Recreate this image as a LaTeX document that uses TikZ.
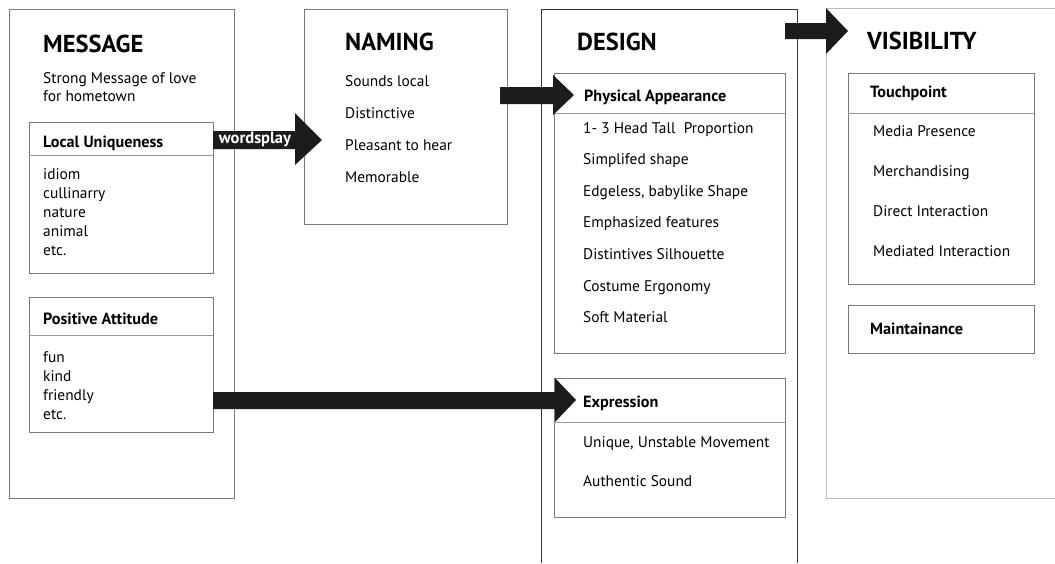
\documentclass[tikz,border=0pt]{standalone}
\usepackage{fontspec}
\setmainfont{PT Sans}
\definecolor{boxgray}{HTML}{7A7A7A}
\definecolor{darkline}{HTML}{333333}
\definecolor{lightline}{HTML}{BBBBBB}
\definecolor{sepgray}{HTML}{999999}
\definecolor{arrowfill}{HTML}{1C1C1C}
\tikzset{
  box/.style={draw=boxgray, line width=0.9pt},
  sep/.style={draw=sepgray, line width=0.8pt},
  item/.style={anchor=base west, inner sep=0pt, font=\fontsize{15.4}{17}\selectfont},
  hd/.style={anchor=base west, inner sep=0pt, font=\fontsize{16.2}{18}\selectfont\bfseries},
  ttl/.style={anchor=base west, inner sep=0pt, font=\fontsize{24.5}{27}\selectfont\bfseries},
  fat/.style={fill=arrowfill, draw=none}
}
\begin{document}
\begin{tikzpicture}[x=1pt,y=-1pt]
\useasboundingbox (0,0) rectangle (1055,563);
\fill[white] (0,0) rectangle (1055,563);
% ---- MESSAGE column
\draw[box] (9,9) rectangle (234,498);
\node[ttl] (msg) at (43,52) {MESSAGE};
\node[item] (m1) at (43,83) {Strong Message of love};
\node[item] (m2) at (43,101) {for hometown};
\draw[box] (29,122) rectangle (213,273);
\draw[sep] (29,155) -- (213,155);
\node[hd] (lu) at (43,147) {Local Uniqueness};
\foreach \t [count=\i] in {idiom,cullinarry,nature,animal,etc.}
  \node[item] (lu\i) at (43,{161+\i*18.9}) {\t};
\draw[box] (29,297) rectangle (213,432);
\draw[sep] (29,335) -- (213,335);
\node[hd] (pa) at (43,324) {Positive Attitude};
\foreach \t [count=\i] in {fun,kind,friendly,etc.}
  \node[item] (pa\i) at (43,{343+\i*19}) {\t};
% ---- NAMING column
\draw[box] (304,9) rectangle (507,224);
\node[ttl] (nam) at (345,50) {NAMING};
\foreach \t [count=\i] in {Sounds local,Distinctive,Pleasant to hear,Memorable}
  \node[item] (n\i) at (345,{54+\i*32}) {\t};
% ---- DESIGN column
\draw[draw=darkline, line width=0.9pt] (541,563) -- (541,9) -- (797,9) -- (797,563);
\node[ttl] (des) at (577,50) {DESIGN};
\draw[box] (554,73) rectangle (785,353);
\draw[sep] (554,113) -- (785,113);
\node[hd] (phy) at (584,101) {Physical Appearance};
\foreach \t [count=\i] in {1- 3 Head Tall\ \ Proportion,Simplifed shape,{Edgeless, babylike Shape},Emphasized features,Distintives Silhouette,Costume Ergonomy,Soft Material}
  \node[item] (p\i) at (583,{101.5+\i*31.6}) {\t};
\draw[box] (554,378) rectangle (785,517);
\draw[sep] (554,422) -- (785,422);
\node[hd] (exp) at (583,407) {Expression};
\node[item] (e1) at (583,447) {Unique, Unstable Movement};
\node[item] (e2) at (583,486) {Authentic Sound};
% ---- VISIBILITY column
\draw[draw=lightline, line width=0.9pt] (1056,8) -- (826,8) -- (826,498) -- (1056,498);
\node[ttl] (vis) at (867,49) {VISIBILITY};
\draw[box] (848,73) rectangle (1034,284);
\draw[sep] (848,113) -- (1034,113);
\node[hd] (tp) at (870,97) {Touchpoint};
\foreach \t [count=\i] in {Media Presence,Merchandising,Direct Interaction,Mediated Interaction}
  \node[item] (t\i) at (873,{96+\i*40}) {\t};
\draw[box] (848,305) rectangle (1034,353);
\node[hd] (mt) at (870,334) {Maintainance};
% ---- fat arrows
\fill[fat] (213,131) -- (295,131) -- (295,113) -- (322,140) -- (295,165) -- (295,149) -- (213,149) -- cycle;
\node[font=\fontsize{16.5}{18}\selectfont\bfseries, text=white, inner sep=0pt] (wp) at (255,139) {wordsplay};
\fill[fat] (500,87) -- (553,87) -- (553,75) -- (574,95) -- (553,115) -- (553,104) -- (500,104) -- cycle;
\fill[fat] (785,23) -- (826,23) -- (826,8) -- (848,31) -- (826,54) -- (826,39) -- (785,39) -- cycle;
\fill[fat] (213,392) -- (555,392) -- (555,378) -- (576,400) -- (555,422) -- (555,409) -- (213,409) -- cycle;
\end{tikzpicture}
\end{document}
